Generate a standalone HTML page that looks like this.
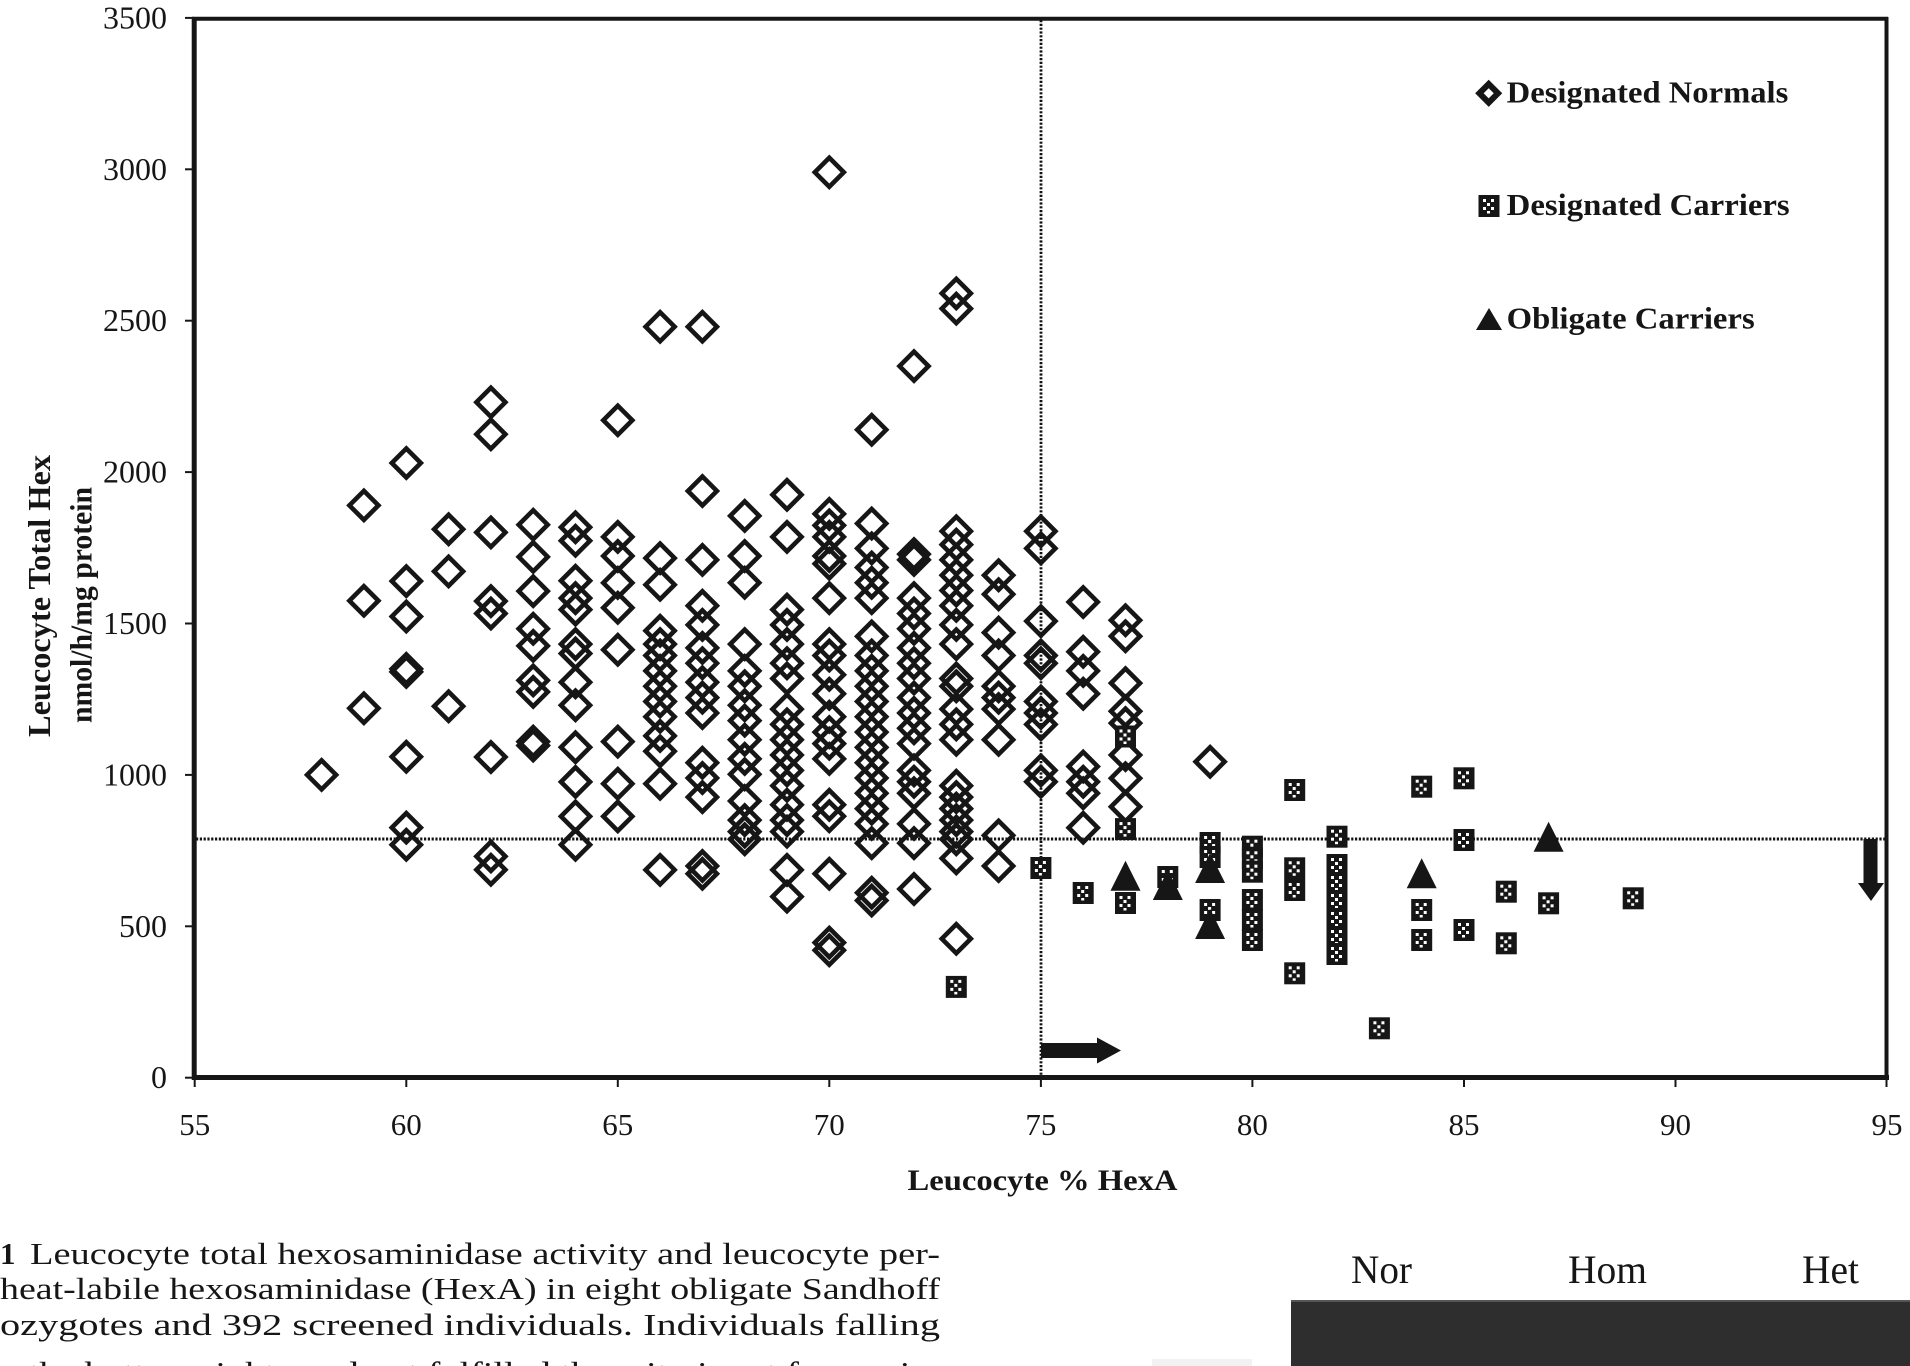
<!DOCTYPE html>
<html><head><meta charset="utf-8"><style>
html,body{margin:0;padding:0;background:#fff;}
svg{display:block;}
text{font-family:"Liberation Serif","Times New Roman",serif;fill:#161616;}
.b{font-weight:bold;}
</style></head><body>
<svg width="1910" height="1366" viewBox="0 0 1910 1366" xmlns="http://www.w3.org/2000/svg">
<defs>
<g id="d"><polygon points="0,-14.5 14.5,0 0,14.5 -14.5,0" fill="none" stroke="#161616" stroke-width="4.6" stroke-linejoin="miter"/></g>
<g id="s"><rect x="-10.5" y="-11" width="21" height="22" fill="#161616"/>
<rect x="-6" y="-7" width="3" height="3" fill="#fff"/><rect x="2" y="-7" width="3" height="3" fill="#fff"/>
<rect x="-2" y="-3" width="3" height="3" fill="#fff"/><rect x="-6" y="1" width="3" height="3" fill="#fff"/>
<rect x="2" y="1" width="3" height="3" fill="#fff"/><rect x="-2" y="5" width="3" height="2.5" fill="#fff"/></g>
<g id="t"><polygon points="0,-15 15,15 -15,15" fill="#161616"/></g>
</defs>

<!-- dotted reference lines -->
<line x1="196" y1="839" x2="1885" y2="839" stroke="#111" stroke-width="3" stroke-dasharray="2.2 1.6"/>
<line x1="1041" y1="20" x2="1041" y2="1076" stroke="#111" stroke-width="2.8" stroke-dasharray="2.2 1.6"/>

<!-- frame -->
<line x1="192" y1="18.7" x2="1888" y2="18.7" stroke="#161616" stroke-width="4"/>
<line x1="194.2" y1="17" x2="194.2" y2="1080" stroke="#161616" stroke-width="5"/>
<line x1="1886.5" y1="17" x2="1886.5" y2="1080" stroke="#161616" stroke-width="4"/>
<line x1="192" y1="1077.5" x2="1889" y2="1077.5" stroke="#161616" stroke-width="5"/>

<!-- y ticks -->
<g stroke="#161616" stroke-width="2">
<line x1="185" y1="17.9" x2="194" y2="17.9"/><line x1="185" y1="169.3" x2="194" y2="169.3"/>
<line x1="185" y1="320.7" x2="194" y2="320.7"/><line x1="185" y1="472.1" x2="194" y2="472.1"/>
<line x1="185" y1="623.5" x2="194" y2="623.5"/><line x1="185" y1="774.9" x2="194" y2="774.9"/>
<line x1="185" y1="926.3" x2="194" y2="926.3"/><line x1="185" y1="1077.7" x2="194" y2="1077.7"/>
</g>
<g font-size="32" text-anchor="end">
<text x="167" y="28.4">3500</text><text x="167" y="179.8">3000</text>
<text x="167" y="331.2">2500</text><text x="167" y="482.6">2000</text>
<text x="167" y="634">1500</text><text x="167" y="785.4">1000</text>
<text x="167" y="936.8">500</text><text x="167" y="1088.2">0</text>
</g>

<!-- x ticks -->
<g stroke="#161616" stroke-width="2">
<line x1="194.7" y1="1078" x2="194.7" y2="1087"/><line x1="406.3" y1="1078" x2="406.3" y2="1087"/>
<line x1="617.8" y1="1078" x2="617.8" y2="1087"/><line x1="829.3" y1="1078" x2="829.3" y2="1087"/>
<line x1="1040.9" y1="1078" x2="1040.9" y2="1087"/><line x1="1252.4" y1="1078" x2="1252.4" y2="1087"/>
<line x1="1464" y1="1078" x2="1464" y2="1087"/><line x1="1675.5" y1="1078" x2="1675.5" y2="1087"/>
<line x1="1886.5" y1="1078" x2="1886.5" y2="1087"/>
</g>
<g font-size="31" text-anchor="middle">
<text x="194.7" y="1135">55</text><text x="406.3" y="1135">60</text><text x="617.8" y="1135">65</text>
<text x="829.3" y="1135">70</text><text x="1040.9" y="1135">75</text><text x="1252.4" y="1135">80</text>
<text x="1464" y="1135">85</text><text x="1675.5" y="1135">90</text><text x="1887" y="1135">95</text>
</g>

<!-- axis titles -->
<text class="b" x="907.5" y="1190" font-size="30" textLength="270" lengthAdjust="spacingAndGlyphs">Leucocyte % HexA</text>
<text class="b" font-size="32" text-anchor="middle" transform="translate(50,596) rotate(-90)" textLength="282" lengthAdjust="spacingAndGlyphs">Leucocyte Total Hex</text>
<text class="b" font-size="31" text-anchor="middle" transform="translate(91.5,605) rotate(-90)" textLength="236" lengthAdjust="spacingAndGlyphs">nmol/h/mg protein</text>

<!-- legend -->
<polygon points="1488.7,84 1498,93.3 1488.7,102.6 1479.4,93.3" fill="none" stroke="#161616" stroke-width="6" stroke-linejoin="miter"/>
<text class="b" x="1506.7" y="102.7" font-size="31" textLength="281.6" lengthAdjust="spacingAndGlyphs">Designated Normals</text>
<use href="#s" x="1489" y="206"/>
<text class="b" x="1506.7" y="215" font-size="31" textLength="283" lengthAdjust="spacingAndGlyphs">Designated Carriers</text>
<polygon points="1489,308 1502,330 1476,330" fill="#161616"/>
<text class="b" x="1506.7" y="328.3" font-size="31" textLength="248" lengthAdjust="spacingAndGlyphs">Obligate Carriers</text>

<!-- Designated Normals -->
<g>
<use href="#d" x="321.6" y="774.9"/>
<use href="#d" x="363.9" y="505.4"/><use href="#d" x="363.9" y="600.8"/><use href="#d" x="363.9" y="708.3"/>
<use href="#d" x="406.3" y="463"/><use href="#d" x="406.3" y="581.1"/><use href="#d" x="406.3" y="616.5"/><use href="#d" x="406.3" y="668.9"/><use href="#d" x="406.3" y="671.9"/><use href="#d" x="406.3" y="756.7"/><use href="#d" x="406.3" y="827.6"/><use href="#d" x="406.3" y="844.8"/>
<use href="#d" x="448.6" y="529.3"/><use href="#d" x="448.6" y="571.4"/><use href="#d" x="448.6" y="706.2"/>
<use href="#d" x="490.9" y="402.2"/><use href="#d" x="490.9" y="434.2"/><use href="#d" x="490.9" y="532.4"/><use href="#d" x="490.9" y="601.1"/><use href="#d" x="490.9" y="613.5"/><use href="#d" x="490.9" y="757"/><use href="#d" x="490.9" y="856.4"/><use href="#d" x="490.9" y="869.7"/>
<use href="#d" x="533.2" y="524.8"/><use href="#d" x="533.2" y="556.9"/><use href="#d" x="533.2" y="591.1"/><use href="#d" x="533.2" y="628.7"/><use href="#d" x="533.2" y="645.9"/><use href="#d" x="533.2" y="680.4"/><use href="#d" x="533.2" y="691.9"/><use href="#d" x="533.2" y="741.6"/><use href="#d" x="533.2" y="745.5"/>
<use href="#d" x="575.5" y="527.2"/><use href="#d" x="575.5" y="540.8"/><use href="#d" x="575.5" y="580.8"/><use href="#d" x="575.5" y="598.1"/><use href="#d" x="575.5" y="609.6"/><use href="#d" x="575.5" y="644.1"/><use href="#d" x="575.5" y="653.5"/><use href="#d" x="575.5" y="682.2"/><use href="#d" x="575.5" y="705.3"/><use href="#d" x="575.5" y="747.3"/><use href="#d" x="575.5" y="781.9"/><use href="#d" x="575.5" y="816.4"/><use href="#d" x="575.5" y="844.8"/>
<use href="#d" x="617.8" y="420.3"/><use href="#d" x="617.8" y="536.9"/><use href="#d" x="617.8" y="556"/><use href="#d" x="617.8" y="582.9"/><use href="#d" x="617.8" y="607.8"/><use href="#d" x="617.8" y="649.8"/><use href="#d" x="617.8" y="741.6"/><use href="#d" x="617.8" y="783.7"/><use href="#d" x="617.8" y="816.4"/>
<use href="#d" x="660.1" y="326.8"/><use href="#d" x="660.1" y="558.1"/><use href="#d" x="660.1" y="584.7"/><use href="#d" x="660.1" y="630.8"/><use href="#d" x="660.1" y="644.1"/><use href="#d" x="660.1" y="655.5"/><use href="#d" x="660.1" y="670.9"/><use href="#d" x="660.1" y="686.2"/><use href="#d" x="660.1" y="701.5"/><use href="#d" x="660.1" y="716.8"/><use href="#d" x="660.1" y="735.9"/><use href="#d" x="660.1" y="751.2"/><use href="#d" x="660.1" y="783.7"/><use href="#d" x="660.1" y="869.9"/>
<use href="#d" x="702.4" y="326.8"/><use href="#d" x="702.4" y="491"/><use href="#d" x="702.4" y="559.9"/><use href="#d" x="702.4" y="605.8"/><use href="#d" x="702.4" y="624.9"/><use href="#d" x="702.4" y="647.9"/><use href="#d" x="702.4" y="663.2"/><use href="#d" x="702.4" y="682.3"/><use href="#d" x="702.4" y="697.6"/><use href="#d" x="702.4" y="713"/><use href="#d" x="702.4" y="762.7"/><use href="#d" x="702.4" y="778"/><use href="#d" x="702.4" y="797.1"/><use href="#d" x="702.4" y="866"/><use href="#d" x="702.4" y="873.7"/>
<use href="#d" x="744.7" y="515.9"/><use href="#d" x="744.7" y="556"/><use href="#d" x="744.7" y="582.8"/><use href="#d" x="744.7" y="644.1"/><use href="#d" x="744.7" y="670.9"/><use href="#d" x="744.7" y="686.2"/><use href="#d" x="744.7" y="705.3"/><use href="#d" x="744.7" y="720.6"/><use href="#d" x="744.7" y="739.7"/><use href="#d" x="744.7" y="758.9"/><use href="#d" x="744.7" y="774.2"/><use href="#d" x="744.7" y="801"/><use href="#d" x="744.7" y="820.1"/><use href="#d" x="744.7" y="831.6"/><use href="#d" x="744.7" y="839.2"/>
<use href="#d" x="787" y="494.8"/><use href="#d" x="787" y="536.9"/><use href="#d" x="787" y="609.6"/><use href="#d" x="787" y="624.9"/><use href="#d" x="787" y="644.1"/><use href="#d" x="787" y="663.2"/><use href="#d" x="787" y="678.5"/><use href="#d" x="787" y="709.1"/><use href="#d" x="787" y="724.4"/><use href="#d" x="787" y="739.7"/><use href="#d" x="787" y="755"/><use href="#d" x="787" y="770.4"/><use href="#d" x="787" y="785.7"/><use href="#d" x="787" y="804.8"/><use href="#d" x="787" y="820.1"/><use href="#d" x="787" y="831.6"/><use href="#d" x="787" y="869.9"/><use href="#d" x="787" y="896.6"/>
<use href="#d" x="829.3" y="172.3"/><use href="#d" x="829.3" y="513.9"/><use href="#d" x="829.3" y="525.4"/><use href="#d" x="829.3" y="536.9"/><use href="#d" x="829.3" y="556"/><use href="#d" x="829.3" y="563.7"/><use href="#d" x="829.3" y="598.1"/><use href="#d" x="829.3" y="644.1"/><use href="#d" x="829.3" y="655.5"/><use href="#d" x="829.3" y="674.7"/><use href="#d" x="829.3" y="693.8"/><use href="#d" x="829.3" y="716.8"/><use href="#d" x="829.3" y="732.1"/><use href="#d" x="829.3" y="743.6"/><use href="#d" x="829.3" y="758.9"/><use href="#d" x="829.3" y="804.8"/><use href="#d" x="829.3" y="816.3"/><use href="#d" x="829.3" y="873.7"/><use href="#d" x="829.3" y="942.6"/><use href="#d" x="829.3" y="950.2"/>
<use href="#d" x="871.7" y="429.8"/><use href="#d" x="871.7" y="523.5"/><use href="#d" x="871.7" y="548.4"/><use href="#d" x="871.7" y="567.5"/><use href="#d" x="871.7" y="582.8"/><use href="#d" x="871.7" y="598.1"/><use href="#d" x="871.7" y="636.4"/><use href="#d" x="871.7" y="655.5"/><use href="#d" x="871.7" y="670.9"/><use href="#d" x="871.7" y="686.2"/><use href="#d" x="871.7" y="701.5"/><use href="#d" x="871.7" y="716.8"/><use href="#d" x="871.7" y="732.1"/><use href="#d" x="871.7" y="747.4"/><use href="#d" x="871.7" y="762.7"/><use href="#d" x="871.7" y="778"/><use href="#d" x="871.7" y="793.3"/><use href="#d" x="871.7" y="808.6"/><use href="#d" x="871.7" y="823.9"/><use href="#d" x="871.7" y="843.1"/><use href="#d" x="871.7" y="892.8"/><use href="#d" x="871.7" y="900.5"/>
<use href="#d" x="914" y="366.1"/><use href="#d" x="914" y="554.1"/><use href="#d" x="914" y="559.9"/><use href="#d" x="914" y="598.1"/><use href="#d" x="914" y="613.5"/><use href="#d" x="914" y="628.8"/><use href="#d" x="914" y="647.9"/><use href="#d" x="914" y="663.2"/><use href="#d" x="914" y="678.5"/><use href="#d" x="914" y="697.6"/><use href="#d" x="914" y="713"/><use href="#d" x="914" y="728.3"/><use href="#d" x="914" y="743.6"/><use href="#d" x="914" y="770.4"/><use href="#d" x="914" y="781.8"/><use href="#d" x="914" y="793.3"/><use href="#d" x="914" y="823.9"/><use href="#d" x="914" y="843.1"/><use href="#d" x="914" y="889"/>
<use href="#d" x="956.3" y="293.4"/><use href="#d" x="956.3" y="308.6"/><use href="#d" x="956.3" y="531.2"/><use href="#d" x="956.3" y="544.6"/><use href="#d" x="956.3" y="559.9"/><use href="#d" x="956.3" y="575.2"/><use href="#d" x="956.3" y="590.5"/><use href="#d" x="956.3" y="605.8"/><use href="#d" x="956.3" y="624.9"/><use href="#d" x="956.3" y="644.1"/><use href="#d" x="956.3" y="678.5"/><use href="#d" x="956.3" y="686.2"/><use href="#d" x="956.3" y="709.1"/><use href="#d" x="956.3" y="724.4"/><use href="#d" x="956.3" y="739.7"/><use href="#d" x="956.3" y="785.7"/><use href="#d" x="956.3" y="797.1"/><use href="#d" x="956.3" y="808.6"/><use href="#d" x="956.3" y="820.1"/><use href="#d" x="956.3" y="831.6"/><use href="#d" x="956.3" y="839.2"/><use href="#d" x="956.3" y="858.4"/><use href="#d" x="956.3" y="938.7"/>
<use href="#d" x="998.6" y="575.2"/><use href="#d" x="998.6" y="594.3"/><use href="#d" x="998.6" y="632.6"/><use href="#d" x="998.6" y="655.5"/><use href="#d" x="998.6" y="686.2"/><use href="#d" x="998.6" y="697.6"/><use href="#d" x="998.6" y="709.1"/><use href="#d" x="998.6" y="739.7"/><use href="#d" x="998.6" y="835.4"/><use href="#d" x="998.6" y="866"/>
<use href="#d" x="1040.9" y="531.2"/><use href="#d" x="1040.9" y="548.4"/><use href="#d" x="1040.9" y="621.1"/><use href="#d" x="1040.9" y="655.5"/><use href="#d" x="1040.9" y="663.2"/><use href="#d" x="1040.9" y="701.5"/><use href="#d" x="1040.9" y="713"/><use href="#d" x="1040.9" y="724.4"/><use href="#d" x="1040.9" y="770.4"/><use href="#d" x="1040.9" y="781.8"/>
<use href="#d" x="1083.2" y="602"/><use href="#d" x="1083.2" y="651.7"/><use href="#d" x="1083.2" y="670.9"/><use href="#d" x="1083.2" y="693.8"/><use href="#d" x="1083.2" y="766.5"/><use href="#d" x="1083.2" y="781.8"/><use href="#d" x="1083.2" y="793.3"/><use href="#d" x="1083.2" y="827.8"/>
<use href="#d" x="1125.5" y="620.2"/><use href="#d" x="1125.5" y="636.2"/><use href="#d" x="1125.5" y="683.1"/><use href="#d" x="1125.5" y="711.3"/><use href="#d" x="1125.5" y="723.1"/><use href="#d" x="1125.5" y="755"/><use href="#d" x="1125.5" y="778.2"/><use href="#d" x="1125.5" y="806.7"/>
<use href="#d" x="1210.1" y="761.7"/>
</g>

<!-- Designated Carriers -->
<g>
<use href="#s" x="956.3" y="986.9"/>
<use href="#s" x="1040.9" y="868"/>
<use href="#s" x="1083.2" y="893"/>
<use href="#s" x="1125.5" y="736.5"/><use href="#s" x="1125.5" y="829.1"/><use href="#s" x="1125.5" y="903"/>
<use href="#s" x="1167.8" y="877"/>
<use href="#s" x="1210.1" y="843"/><use href="#s" x="1210.1" y="857"/><use href="#s" x="1210.1" y="910"/>
<use href="#s" x="1252.4" y="846.7"/><use href="#s" x="1252.4" y="858.3"/><use href="#s" x="1252.4" y="871.7"/><use href="#s" x="1252.4" y="900"/><use href="#s" x="1252.4" y="920"/><use href="#s" x="1252.4" y="940"/>
<use href="#s" x="1294.7" y="790"/><use href="#s" x="1294.7" y="868.3"/><use href="#s" x="1294.7" y="890"/><use href="#s" x="1294.7" y="973.3"/>
<use href="#s" x="1337" y="836.7"/><use href="#s" x="1337" y="865"/><use href="#s" x="1337" y="883"/><use href="#s" x="1337" y="901"/><use href="#s" x="1337" y="919"/><use href="#s" x="1337" y="937"/><use href="#s" x="1337" y="954"/>
<use href="#s" x="1379.4" y="1028.3"/>
<use href="#s" x="1421.7" y="786.7"/><use href="#s" x="1421.7" y="910"/><use href="#s" x="1421.7" y="940"/>
<use href="#s" x="1464" y="778.3"/><use href="#s" x="1464" y="840"/><use href="#s" x="1464" y="930"/>
<use href="#s" x="1506.3" y="891.7"/><use href="#s" x="1506.3" y="943.3"/>
<use href="#s" x="1548.6" y="903.3"/>
<use href="#s" x="1633.2" y="898.3"/>
</g>

<!-- Obligate Carriers -->
<g>
<use href="#t" x="1125.5" y="875.7"/>
<use href="#t" x="1167.8" y="885"/>
<use href="#t" x="1210.1" y="868"/><use href="#t" x="1210.1" y="924"/>
<use href="#t" x="1421.7" y="873.3"/>
<use href="#t" x="1548.6" y="836.7"/>
</g>

<!-- arrows -->
<rect x="1041" y="1043" width="57" height="15" fill="#161616"/>
<polygon points="1097,1037.5 1121,1050.5 1097,1063.5" fill="#161616"/>
<rect x="1863.5" y="839" width="14" height="45" fill="#161616"/>
<polygon points="1858,883 1884,883 1871,901" fill="#161616"/>

<!-- caption -->
<text x="0" y="1264" font-size="31" class="b">1</text>
<text x="30" y="1264" font-size="31" textLength="910" lengthAdjust="spacingAndGlyphs">Leucocyte total hexosaminidase activity and leucocyte per-</text>
<text x="0" y="1299" font-size="31" textLength="940" lengthAdjust="spacingAndGlyphs">heat-labile hexosaminidase (HexA) in eight obligate Sandhoff</text>
<text x="0" y="1335" font-size="31" textLength="940" lengthAdjust="spacingAndGlyphs">ozygotes and 392 screened individuals. Individuals falling</text>
<text x="0" y="1383" font-size="31" textLength="940" lengthAdjust="spacingAndGlyphs">n the bottom right quadrant fulfilled the criteria set for carrier</text>

<!-- gel photo -->
<text x="1351" y="1283" font-size="40" textLength="61" lengthAdjust="spacingAndGlyphs">Nor</text>
<text x="1568" y="1283" font-size="40" textLength="79" lengthAdjust="spacingAndGlyphs">Hom</text>
<text x="1802" y="1283" font-size="40" textLength="57" lengthAdjust="spacingAndGlyphs">Het</text>
<rect x="1291" y="1300" width="619" height="66" fill="#2e2e2e"/>
<rect x="1291" y="1300" width="619" height="2" fill="#555"/>
<rect x="1152" y="1359" width="100" height="7" fill="#f2f2f2"/>
</svg>
</body></html>
